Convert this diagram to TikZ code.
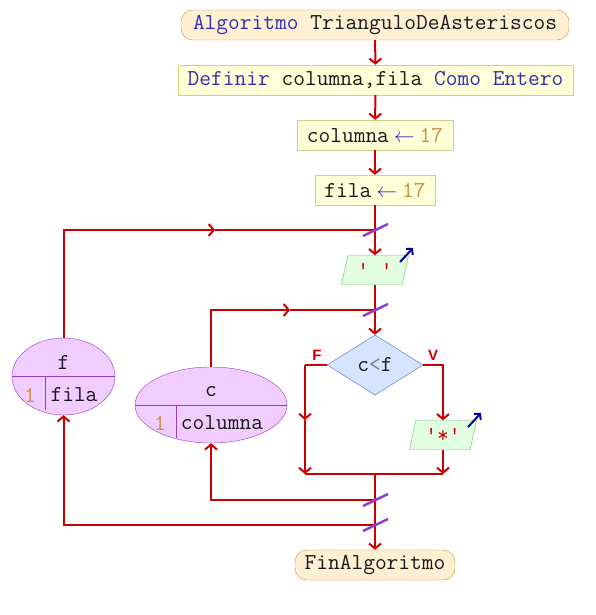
\documentclass[tikz,border=0pt]{standalone}
\usepackage{fontspec}
\setsansfont{Liberation Sans}
\usetikzlibrary{arrows.meta,shapes.geometric}
\definecolor{termfill}{HTML}{FFF0D4}
\definecolor{termline}{HTML}{C8902C}
\definecolor{procfill}{HTML}{FFFFD8}
\definecolor{procline}{HTML}{D0D080}
\definecolor{outfill}{HTML}{E2FFE2}
\definecolor{outline}{HTML}{60C060}
\definecolor{condfill}{HTML}{D6E4FF}
\definecolor{condline}{HTML}{4A66CC}
\definecolor{varfill}{HTML}{F0CCFF}
\definecolor{varline}{HTML}{9040C0}
\definecolor{flowred}{HTML}{CC0000}
\definecolor{slashpurple}{HTML}{8844CC}
\definecolor{outblue}{HTML}{000099}
\definecolor{kw}{HTML}{3030B0}
\definecolor{num}{HTML}{C89040}
\definecolor{strred}{HTML}{C80000}
\newcommand{\asg}{\kern5pt\textcolor{kw}{$\leftarrow$}\kern5pt}

\begin{document}
\begin{tikzpicture}[x=1pt,y=-1pt,>={Straight Barb[length=5pt,width=12pt]},
  font=\fontsize{22.8}{27}\selectfont\ttfamily,
  every node/.style={inner sep=0pt,text=black!90},
  termbox/.style={draw=termline,fill=termfill,rounded corners=12pt,minimum height=30pt},
  procbox/.style={draw=procline,fill=procfill,minimum height=30pt},
  outbox/.style={trapezium,trapezium left angle=66,trapezium right angle=114,
    trapezium stretches body,draw=outline,fill=outfill,minimum height=29pt,minimum width=67pt},
  testbox/.style={diamond,draw=condline,fill=condfill,minimum width=96pt,minimum height=60pt,aspect=1.6},
  varbox/.style={ellipse,draw=varline,fill=varfill},
  divider/.style={draw=varline},
  flow/.style={draw=flowred,line width=2pt},
  arr/.style={flow,->},
  slash/.style={draw=slashpurple,line width=2.5pt},
  outarr/.style={draw=outblue,line width=2pt,-{Straight Barb[length=4pt,width=9pt]}},
  branch/.style={text=flowred,font=\fontsize{15}{18}\selectfont\sffamily\bfseries}]
  \useasboundingbox (0,0) rectangle (595,615);

  % main column
  \node[termbox,minimum width=388pt] (start) at (375,25) {\textcolor{kw}{Algoritmo} TrianguloDeAsteriscos};
  \node[procbox,minimum width=395pt] (def) at (375.5,80) {\textcolor{kw}{Definir} columna,fila \textcolor{kw}{Como} \textcolor{kw}{Entero}};
  \node[procbox,minimum width=156pt] (col) at (375,135) {columna\asg\textcolor{num}{17}};
  \node[procbox,minimum width=120pt] (fil) at (375,190) {fila\asg\textcolor{num}{17}};
  \node[outbox] (out1) at (375,270) {\textcolor{strred}{' '}};
  \node[testbox] (test) at (375,365) {c\textcolor{gray}{<}f};
  \node[outbox] (out2) at (443,435) {\textcolor{strred}{'*'}};
  \node[termbox,minimum width=160pt] (finish) at (375,565) {FinAlgoritmo};
  \node[branch] (lf) at (317,355) {F};
  \node[branch] (lv) at (433,355) {V};

  % loop counters
  \node[varbox,minimum width=103pt,minimum height=77pt] (varf) at (63.5,376.5) {};
  \draw[divider] (varf.west) -- (varf.east);
  \draw[divider] (45,376.5) -- (45,410);
  \node (vf) at (63.5,362) {f};
  \node (vf1) at (30,395) {\textcolor{num}{1}};
  \node (vf2) at (74,395) {fila};
  \node[varbox,minimum width=152pt,minimum height=76pt] (varc) at (211,405) {};
  \draw[divider] (varc.west) -- (varc.east);
  \draw[divider] (176,405) -- (176,438);
  \node (vc) at (211,392) {c};
  \node (vc1) at (160,423) {\textcolor{num}{1}};
  \node (vc2) at (222,423) {columna};

  \coordinate (j1) at (375,230);
  \coordinate (j2) at (375,310);
  \coordinate (j3) at (375,474);
  \coordinate (j4) at (375,500);
  \coordinate (j5) at (375,525);
  \coordinate (m1) at (215,230);
  \coordinate (m2) at (290,310);
  \coordinate (bl) at (305,365);
  \coordinate (bm) at (305,420);
  \coordinate (bb) at (305,474);
  \coordinate (br) at (443,474);

  \draw[arr] (start) -- (def);
  \draw[arr] (def) -- (col);
  \draw[arr] (col) -- (fil);
  \draw[flow] (fil) -- (j1);
  \draw[arr] (j1) -- (out1);
  \draw[flow] (out1) -- (j2);
  \draw[arr] (j2) -- (test);
  \draw[flow] (test.west) -- (bl);
  \draw[arr] (bl) -- (bm);
  \draw[arr] (bm) -- (bb);
  \draw[arr] (test.east) -| (out2);
  \draw[arr] (out2) -- (br);
  \draw[flow] (bb) -- (br);
  \draw[flow] (j3) -- (j5);
  \draw[arr] (j5) -- (finish);
  \draw[arr] (j4) -| (varc);
  \draw[arr] (j5) -| (varf);
  \draw[arr] (varc) |- (m2);
  \draw[flow] (m2) -- (j2);
  \draw[arr] (varf) |- (m1);
  \draw[flow] (m1) -- (j1);

  \foreach \j in {j1,j2,j4,j5}
    \draw[slash,shift={(\j)}] (-12,6) -- (13,-6);
  \foreach \o in {out1,out2}
    \draw[outarr,shift={(\o.center)}] (25,-8) -- (38,-22);
\end{tikzpicture}
\end{document}
